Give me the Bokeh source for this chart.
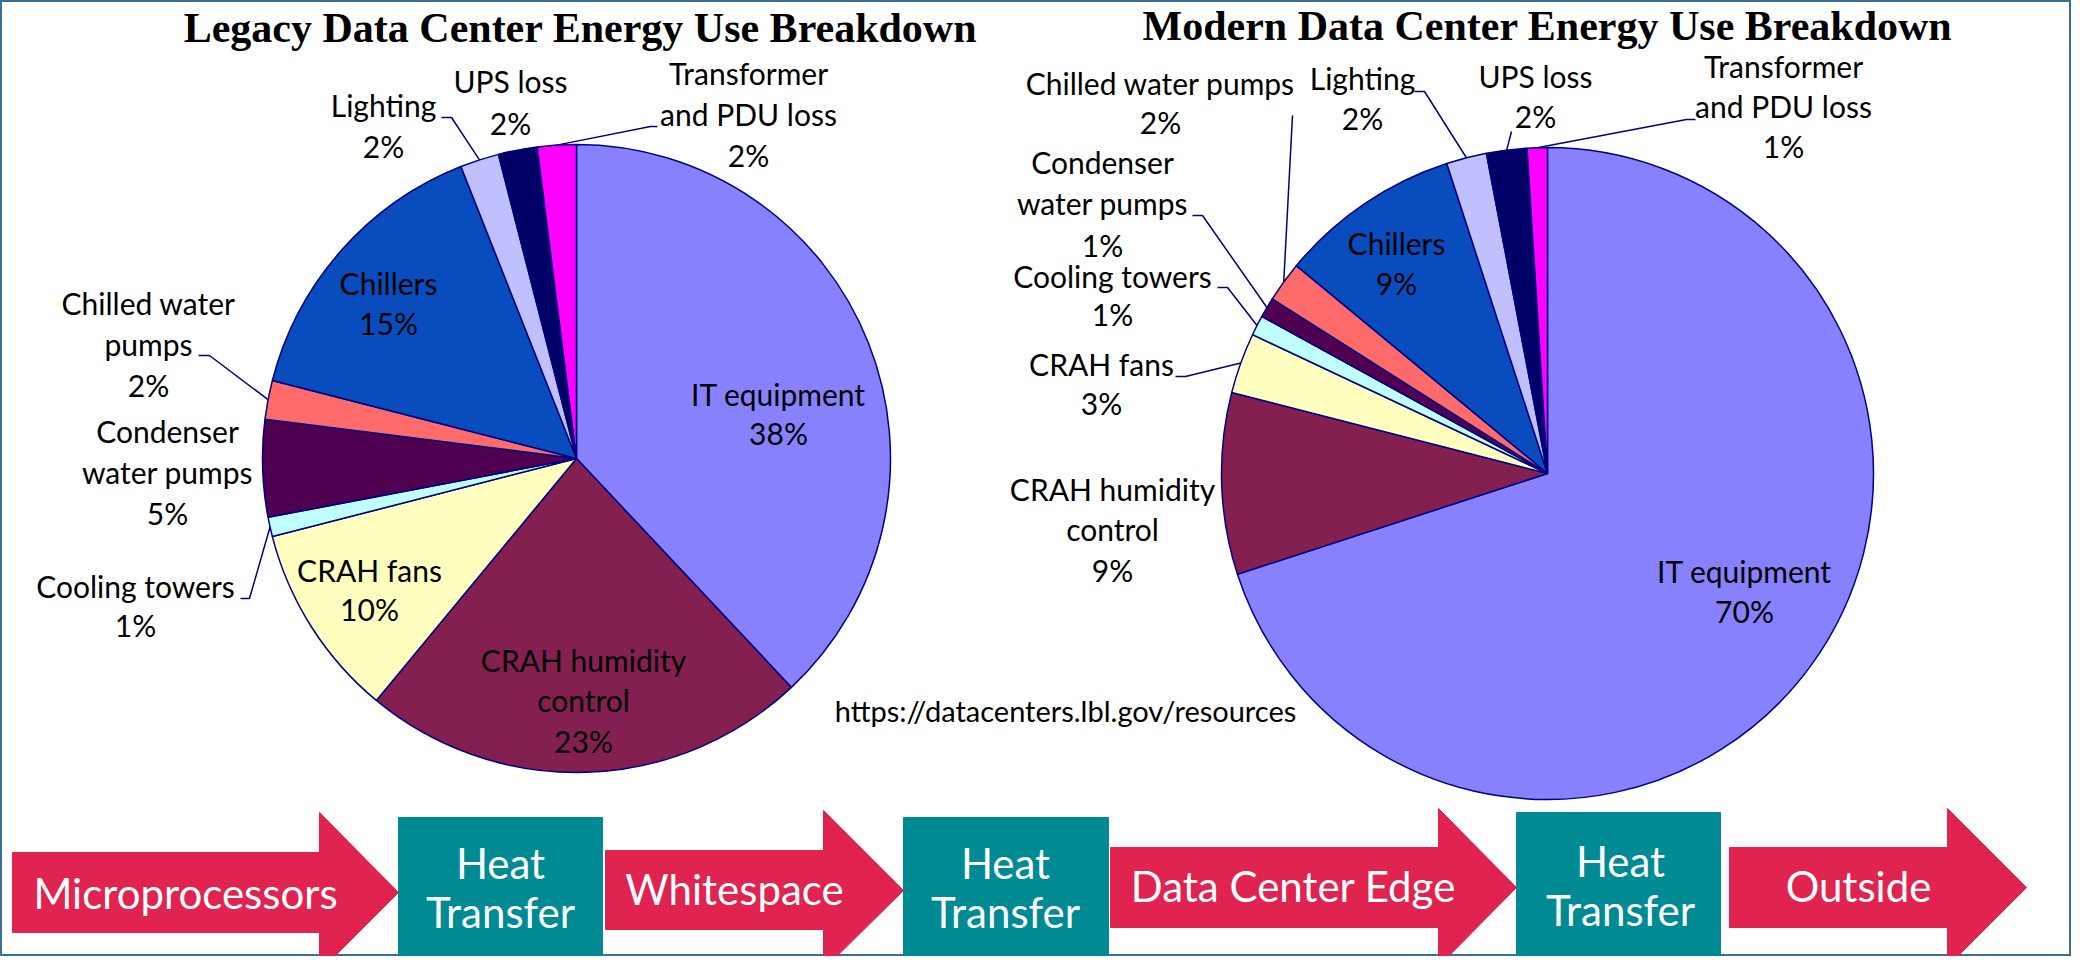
import math
from bokeh.plotting import figure
from bokeh.models import ColumnDataSource, Range1d
from bokeh.core.properties import value
from bokeh.embed import file_html
from bokeh.resources import INLINE

# ---------------- data ----------------
categories = ["IT equipment", "CRAH humidity control", "CRAH fans", "Cooling towers",
              "Condenser water pumps", "Chilled water pumps", "Chillers", "Lighting",
              "UPS loss", "Transformer and PDU loss"]
legacy_pct = [38, 23, 10, 1, 5, 2, 15, 2, 2, 2]
modern_pct = [70, 9, 3, 1, 1, 2, 9, 2, 2, 1]
slice_colors = ["#8781FE", "#832050", "#FFFFC0", "#C0FFFF", "#500050",
                "#FF6B6B", "#084CBE", "#C0C0FF", "#000066", "#FF00FF"]
chart_titles = ["Legacy Data Center Energy Use Breakdown",
                "Modern Data Center Energy Use Breakdown"]
flow_steps = ["Microprocessors", "Heat\nTransfer", "Whitespace", "Heat\nTransfer",
              "Data Center Edge", "Heat\nTransfer", "Outside"]
source_url = "https://datacenters.lbl.gov/resources"

# ---------------- layout (image pixel coordinates, y downward) ----------------
FW, FH = 2071, 956
def Y(v):
    return FH - v

def TY(base, fs):
    # baseline position corrected for the renderer's text anchor offset
    return Y(base - 0.42 * fs)

LABEL_FONT = value("Lato")
NAVY = "#000080"
LFS, TFS, UFS, FFS = 30, 42, 29, 42

p = figure(width=FW, height=FH, x_range=Range1d(0, FW), y_range=Range1d(0, FH),
           x_axis_type=None, y_axis_type=None, toolbar_location=None,
           output_backend="svg", min_border=0)
p.grid.visible = False
p.outline_line_color = "#3A6E94"
p.outline_line_width = 3
p.background_fill_color = "white"
p.border_fill_color = "white"

pies = [
    dict(values=legacy_pct, cx=576, cy=458, r=314, title_x=580, title_base=45,
         labels={
             "IT equipment": (["IT equipment"], 778, [406, 445], None),
             "CRAH humidity control": (["CRAH humidity", "control"], 583, [672, 712, 753], None),
             "CRAH fans": (["CRAH fans"], 369, [582, 621], None),
             "Cooling towers": (["Cooling towers"], 135, [598, 637], [(240, 598), (249, 598)]),
             "Condenser water pumps": (["Condenser", "water pumps"], 167, [443, 484, 525], None),
             "Chilled water pumps": (["Chilled water", "pumps"], 148, [315, 356, 397], [(198, 355), (209, 355)]),
             "Chillers": (["Chillers"], 388, [295, 335], None),
             "Lighting": (["Lighting"], 383, [117, 158], [(441, 117), (451, 117)]),
             "UPS loss": (["UPS loss"], 510, [93, 135], None),
             "Transformer and PDU loss": (["Transformer", "and PDU loss"], 748, [85, 126, 167],
                                          [(657, 126), (650, 126)]),
         }),
    dict(values=modern_pct, cx=1547, cy=473, r=326, title_x=1547, title_base=43,
         labels={
             "IT equipment": (["IT equipment"], 1744, [583, 623], None),
             "CRAH humidity control": (["CRAH humidity", "control"], 1112, [501, 541, 582], None),
             "CRAH fans": (["CRAH fans"], 1101, [376, 415], [(1175, 376), (1185, 376)]),
             "Cooling towers": (["Cooling towers"], 1112, [288, 326], [(1217, 287), (1227, 287)]),
             "Condenser water pumps": (["Condenser", "water pumps"], 1102, [174, 215, 257],
                                       [(1192, 215), (1202, 215)]),
             "Chilled water pumps": (["Chilled water pumps"], 1160, [95, 134], [(1292, 115)]),
             "Chillers": (["Chillers"], 1396, [255, 295], None),
             "Lighting": (["Lighting"], 1362, [90, 130], [(1414, 91), (1424, 91)]),
             "UPS loss": (["UPS loss"], 1535, [88, 128], [(1511, 131)]),
             "Transformer and PDU loss": (["Transformer", "and PDU loss"], 1783, [78, 118, 158],
                                          [(1695, 119), (1686, 119)]),
         }),
]

for k, pie in enumerate(pies):
    vals = pie["values"]
    total = float(sum(vals))
    cum = [0.0]
    for v in vals:
        cum.append(cum[-1] + v / total)
    starts = [math.pi / 2 - 2 * math.pi * cum[i + 1] for i in range(len(vals))]
    ends = [math.pi / 2 - 2 * math.pi * cum[i] for i in range(len(vals))]
    src = ColumnDataSource(dict(x=[pie["cx"]] * len(vals), y=[Y(pie["cy"])] * len(vals),
                                s=starts, e=ends, c=slice_colors, cat=categories))
    p.wedge(x="x", y="y", radius=pie["r"], start_angle="s", end_angle="e",
            direction="anticlock", fill_color="c", line_color=NAVY, line_width=1.5, source=src)

    tx, ty, tt = [], [], []
    lx, ly = [], []
    for i, cat in enumerate(categories):
        lines, x, bases, leader = pie["labels"][cat]
        all_lines = lines + ["%d%%" % vals[i]]
        for t, b in zip(all_lines, bases):
            tx.append(x); ty.append(TY(b, LFS)); tt.append(t)
        if leader:
            mid = (cum[i] + cum[i + 1]) / 2 * 2 * math.pi
            ex = pie["cx"] + pie["r"] * math.sin(mid)
            ey = pie["cy"] - pie["r"] * math.cos(mid)
            xs = [pt[0] for pt in leader] + [ex]
            ys = [Y(pt[1]) for pt in leader] + [Y(ey)]
            lx.append(xs); ly.append(ys)
    p.multi_line(xs=lx, ys=ly, line_color=NAVY, line_width=1.5)
    p.text(x=tx, y=ty, text=tt, text_font=LABEL_FONT, text_font_size="%dpx" % LFS,
           text_align="center", text_baseline="alphabetic", text_color="black")
    p.text(x=[pie["title_x"]], y=[TY(pie["title_base"], TFS)], text=[chart_titles[k]],
           text_font=value("Liberation Serif"), text_font_style="bold",
           text_font_size="%dpx" % TFS,
           text_align="center", text_baseline="alphabetic", text_color="black")

p.text(x=[1065], y=[TY(722, UFS)], text=[source_url], text_font=LABEL_FONT,
       text_font_size="%dpx" % UFS,
       text_align="center", text_baseline="alphabetic", text_color="black")

# ---------------- flow diagram ----------------
ARROW = "#E0234F"
TEAL = "#008A93"
# arrows: body_left, body_top, body_bottom, head_x, head_top, head_bottom, tip_x, tip_y
arrows = [(12, 852, 932, 319, 812, 971, 398, 892),
          (605, 850, 929, 823, 810, 969, 903, 890),
          (1110, 847, 927, 1438, 808, 966, 1516, 887),
          (1729, 847, 927, 1947, 808, 966, 2026, 887)]
boxes = [(398, 602, 817, 962), (903, 1108, 817, 962), (1516, 1720, 812, 958)]

axs, ays = [], []
for (bl, bt, bb, hx, ht, hb, tx_, ty_) in arrows:
    axs.append([bl, hx, hx, tx_, hx, hx, bl])
    ays.append([Y(bt), Y(bt), Y(ht), Y(ty_), Y(hb), Y(bb), Y(bb)])
p.patches(xs=axs, ys=ays, fill_color=ARROW, line_color=ARROW, line_width=1)

bxs, bys = [], []
for (l, r, t, b) in boxes:
    bxs.append([l, r, r, l]); bys.append([Y(t), Y(t), Y(b), Y(b)])
p.patches(xs=bxs, ys=bys, fill_color=TEAL, line_color=TEAL, line_width=1)

arrow_text_pos = [(185, 910), (734, 906), (1293, 903), (1858, 903)]
box_text_pos = [(500, 880, 929), (1005, 880, 929), (1620, 878, 927)]
fx, fy, ft = [], [], []
ai = bi = 0
for step in flow_steps:
    if "\n" in step:
        x, b1, b2 = box_text_pos[bi]; bi += 1
        l1, l2 = step.split("\n")
        fx += [x, x]; fy += [TY(b1, FFS), TY(b2, FFS)]; ft += [l1, l2]
    else:
        x, b = arrow_text_pos[ai]; ai += 1
        fx.append(x); fy.append(TY(b, FFS)); ft.append(step)
p.text(x=fx, y=fy, text=ft, text_font=LABEL_FONT, text_font_size="%dpx" % FFS,
       text_align="center", text_baseline="alphabetic", text_color="white")

open("out.html", "w").write(file_html(p, INLINE))
